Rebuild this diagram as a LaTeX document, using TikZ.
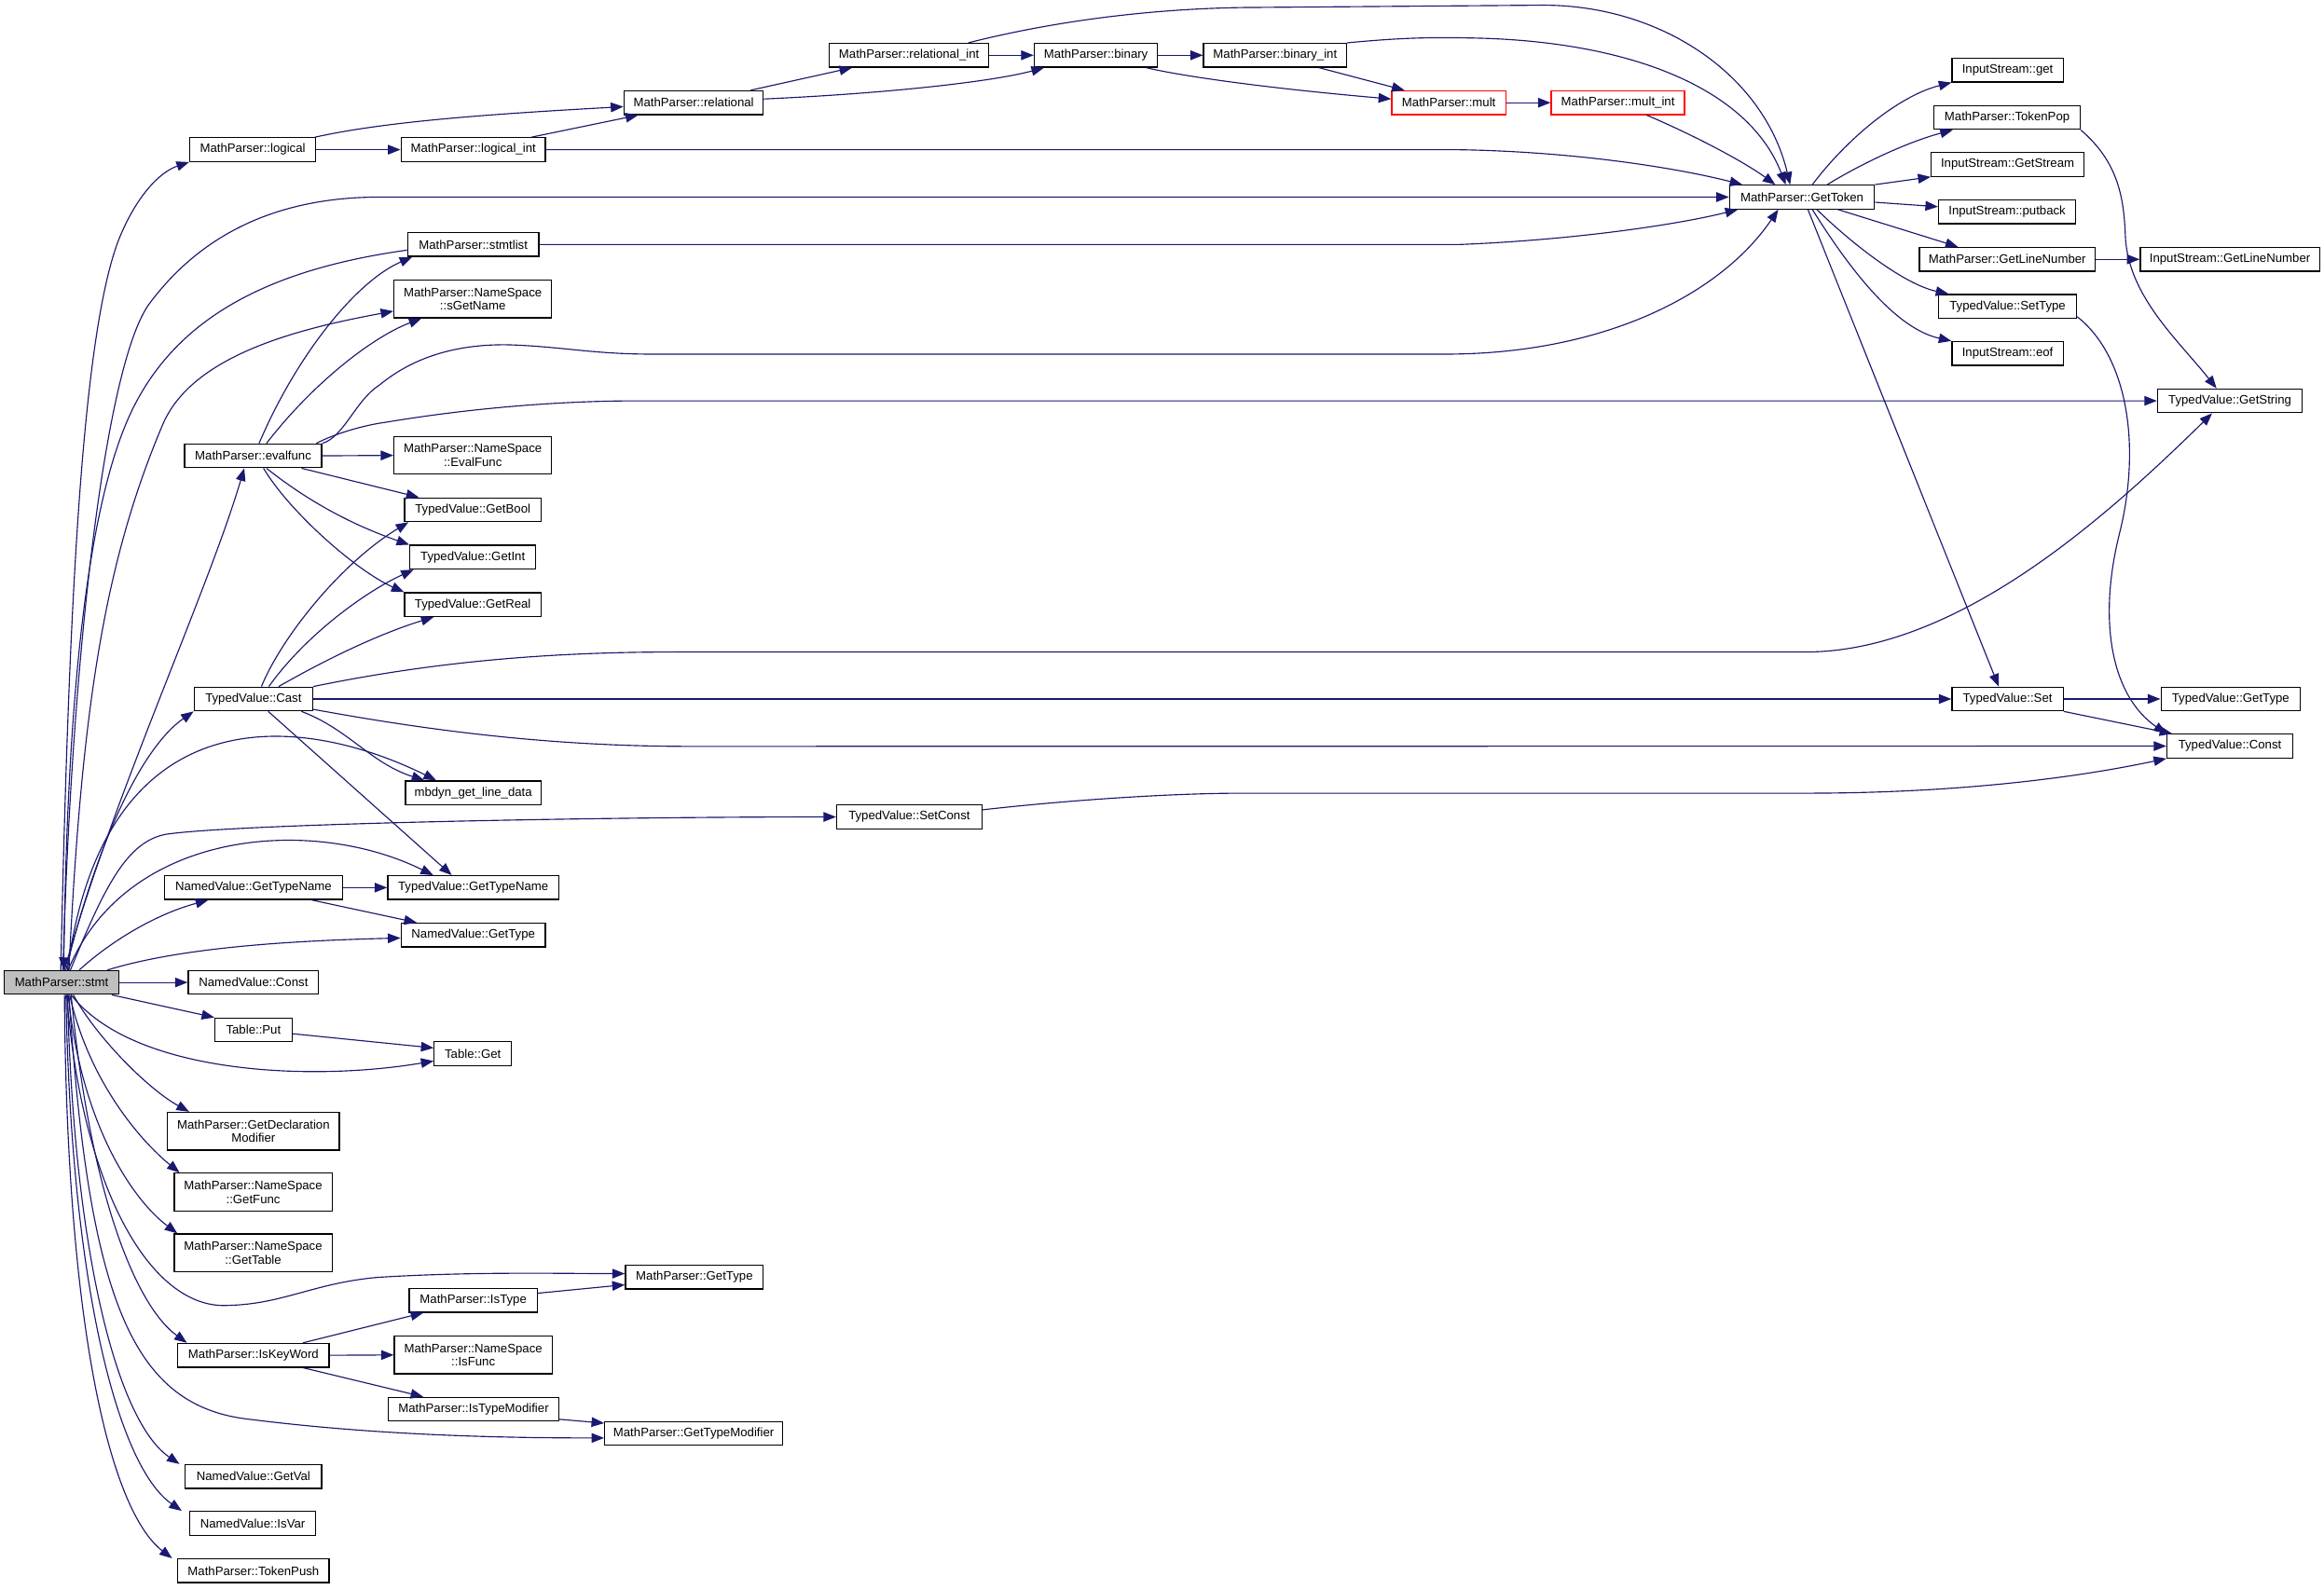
\documentclass[tikz,border=0pt]{standalone}
\usepackage{fontspec}
\setmainfont{Liberation Sans}
\usetikzlibrary{arrows.meta}
\definecolor{edgeblue}{HTML}{191970}
\definecolor{stmtgray}{HTML}{BFBFBF}
\definecolor{redbox}{HTML}{FF0000}
\tikzset{
  box/.style={draw=black, line width=0.8pt, fill=white, inner sep=0pt, align=center,
              font=\fontsize{8.3}{9.3}\selectfont, minimum height=16pt},
  tall/.style={minimum height=25.5pt},
  call/.style={draw=edgeblue, line width=0.72pt, -{Triangle[length=8.5pt,width=6.5pt]}, fill=none},
}
\begin{document}
\begin{tikzpicture}[x=1pt,y=-1pt]
\fill[white] (0,0) rectangle (1568,1072.4);
\useasboundingbox (0,0) rectangle (1568,1072.4);

% ---------- nodes ----------
\node[box, fill=stmtgray, minimum width=77pt] (stmt) at (41.5,663) {MathParser::stmt};
\node[box, minimum width=85pt] (logical) at (170.5,101) {MathParser::logical};
\node[box, minimum width=97.4pt] (logint) at (319.3,101) {MathParser::logical\_int};
\node[box, minimum width=94pt] (relational) at (468,69.3) {MathParser::relational};
\node[box, minimum width=107.4pt] (relint) at (613.3,37.3) {MathParser::relational\_int};
\node[box, minimum width=83.2pt] (binary) at (739.4,37.3) {MathParser::binary};
\node[box, minimum width=96.5pt] (binint) at (860.3,37.3) {MathParser::binary\_int};
\node[box, draw=redbox, minimum width=77pt] (mult) at (977.5,69.3) {MathParser::mult};
\node[box, draw=redbox, minimum width=90pt] (multint) at (1091.6,69.3) {MathParser::mult\_int};
\node[box, minimum width=97.7pt] (gettoken) at (1215.8,133) {MathParser::GetToken};
\node[box, minimum width=75pt] (isget) at (1354.5,47.3) {InputStream::get};
\node[box, minimum width=98.5pt] (tokenpop) at (1354.2,79.3) {MathParser::TokenPop};
\node[box, minimum width=103pt] (getstream) at (1354.5,111) {InputStream::GetStream};
\node[box, minimum width=92.5pt] (putback) at (1354.2,143) {InputStream::putback};
\node[box, minimum width=118.6pt] (mpgetline) at (1354.3,175) {MathParser::GetLineNumber};
\node[box, minimum width=121pt] (isgetline) at (1504.5,175) {InputStream::GetLineNumber};
\node[box, minimum width=93pt] (settype) at (1354.5,206.7) {TypedValue::SetType};
\node[box, minimum width=75pt] (eof) at (1354.5,238.5) {InputStream::eof};
\node[box, minimum width=97.7pt] (getstring) at (1504.5,270.5) {TypedValue::GetString};
\node[box, minimum width=88.5pt] (stmtlist) at (319.3,165) {MathParser::stmtlist};
\node[box, tall, minimum width=106.4pt] (sgetname) at (319,201.7) {MathParser::NameSpace\\::sGetName};
\node[box, minimum width=92.5pt] (evalfunc) at (170.8,307.6) {MathParser::evalfunc};
\node[box, tall, minimum width=106.4pt] (nsevalfunc) at (319,307.3) {MathParser::NameSpace\\::EvalFunc};
\node[box, minimum width=92pt] (getbool) at (319,344) {TypedValue::GetBool};
\node[box, minimum width=85pt] (getint) at (319,376) {TypedValue::GetInt};
\node[box, minimum width=92pt] (getreal) at (319,408) {TypedValue::GetReal};
\node[box, minimum width=80pt] (cast) at (171,471.7) {TypedValue::Cast};
\node[box, minimum width=75pt] (tvset) at (1354.5,471.7) {TypedValue::Set};
\node[box, minimum width=94pt] (tvgettype) at (1505,471.7) {TypedValue::GetType};
\node[box, minimum width=85pt] (tvconst) at (1504.5,503.5) {TypedValue::Const};
\node[box, minimum width=91.4pt] (mbdyn) at (319.3,535) {mbdyn\_get\_line\_data};
\node[box, minimum width=98pt] (setconst) at (613.5,551.3) {TypedValue::SetConst};
\node[box, minimum width=120pt] (nvgettypename) at (171,599) {NamedValue::GetTypeName};
\node[box, minimum width=115.4pt] (tvgettypename) at (319.3,599) {TypedValue::GetTypeName};
\node[box, minimum width=97.4pt] (nvgettype) at (319.3,631) {NamedValue::GetType};
\node[box, minimum width=88pt] (nvconst) at (171,663) {NamedValue::Const};
\node[box, minimum width=52pt] (tableput) at (171,695) {Table::Put};
\node[box, minimum width=52pt] (tableget) at (319,711) {Table::Get};
\node[box, tall, minimum width=116pt] (getdeclmod) at (171,763.4) {MathParser::GetDeclaration\\Modifier};
\node[box, tall, minimum width=106.5pt] (getfunc) at (170.8,804.5) {MathParser::NameSpace\\::GetFunc};
\node[box, tall, minimum width=106.5pt] (gettable) at (170.8,845.5) {MathParser::NameSpace\\::GetTable};
\node[box, minimum width=93pt] (mpgettype) at (468.5,861.8) {MathParser::GetType};
\node[box, minimum width=86.5pt] (istype) at (319.3,877.5) {MathParser::IsType};
\node[box, minimum width=102pt] (iskeyword) at (171,914.6) {MathParser::IsKeyWord};
\node[box, tall, minimum width=106.5pt] (isfunc) at (319.3,914.4) {MathParser::NameSpace\\::IsFunc};
\node[box, minimum width=115pt] (istypemod) at (319.5,951) {MathParser::IsTypeModifier};
\node[box, minimum width=120pt] (gettypemod) at (468,967.4) {MathParser::GetTypeModifier};
\node[box, minimum width=92pt] (getval) at (171,996.4) {NamedValue::GetVal};
\node[box, minimum width=85pt] (isvar) at (170.5,1028) {NamedValue::IsVar};
\node[box, minimum width=102pt] (tokenpush) at (171,1060) {MathParser::TokenPush};

% ---------- edges from stmt (upwards) ----------
\draw[call] ([xshift=-0.5pt]stmt.north) .. controls (46,430) and (54,230) .. (80,162)
  .. controls (92,132) and (108,116) .. (logical.south west);
\draw[call] ([xshift=1pt]stmt.north) .. controls (48,450) and (70,250) .. (100,206)
  .. controls (125,172) and (170,133) .. (256,133) -- (gettoken.west);
\draw[call] ([yshift=-3.8pt]stmtlist.west) .. controls (180,182) and (120,215) .. (90,275)
  .. controls (55,345) and (45,500) .. ([xshift=1.5pt]stmt.north);
\draw[call] ([xshift=5pt]stmt.north) .. controls (55,480) and (70,380) .. (110,286)
  .. controls (130,240) and (200,222) .. ([yshift=-8.3pt]sgetname.west);
\draw[call] ([xshift=2pt]stmt.north) .. controls (75,540) and (140,400) .. ([xshift=-6pt]evalfunc.south);
\draw[call] ([xshift=3pt]stmt.north) .. controls (65,570) and (95,505) .. (cast.south west);
\draw[call] ([xshift=4pt]stmt.north) .. controls (70,470) and (200,480) .. ([xshift=-25pt]mbdyn.north);
\draw[call] ([xshift=6pt]stmt.north) .. controls (70,600) and (85,568) .. (112,563)
  .. controls (160,556) and (400,551.3) .. (setconst.west);
\draw[call] ([xshift=4.5pt]stmt.north) .. controls (85,560) and (210,550) .. ([xshift=-27pt]tvgettypename.north);
\draw[call] ([xshift=12pt]stmt.north) .. controls (75,635) and (105,617) .. ([xshift=-30.5pt]nvgettypename.south);
\draw[call] ([xshift=31pt]stmt.north) .. controls (120,640) and (190,635) .. ([yshift=-2pt]nvgettype.west);
\draw[call] (stmt.east) -- (nvconst.west);

% ---------- edges from stmt (downwards) ----------
\draw[call] ([xshift=-5pt]stmt.south east) -- (tableput.north west);
\draw[call] ([xshift=6.5pt]stmt.south) .. controls (90,725) and (210,730) .. ([yshift=-5pt]tableget.west);
\draw[call] ([xshift=8pt]stmt.south) .. controls (65,700) and (100,735) .. ([xshift=15pt]getdeclmod.north west);
\draw[call] ([xshift=5.5pt]stmt.south) .. controls (60,730) and (95,770) .. ([xshift=4pt]getfunc.north west);
\draw[call] ([xshift=4.5pt]stmt.south) .. controls (55,760) and (90,810) .. ([xshift=2.5pt]gettable.north west);
\draw[call] ([xshift=3.5pt]stmt.south) .. controls (55,800) and (100,880) .. (150,881)
  .. controls (190,881) and (210,866) .. (255,862)
  .. controls (320,858) and (380,859.5) .. ([yshift=2.3pt]mpgettype.west);
\draw[call] ([xshift=6.5pt]stmt.south) .. controls (60,800) and (90,880) .. ([xshift=6.5pt]iskeyword.north west);
\draw[call] ([xshift=5pt]stmt.south) .. controls (60,880) and (90,950) .. (170,958)
  .. controls (250,968) and (330,970.4) .. ([yshift=-3pt]gettypemod.west);
\draw[call] ([xshift=4pt]stmt.south) .. controls (50,850) and (80,960) .. ([xshift=-3.5pt]getval.north west);
\draw[call] ([xshift=3pt]stmt.south) .. controls (48,870) and (80,990) .. ([xshift=-5pt]isvar.north west);
\draw[call] ([xshift=2pt]stmt.south) .. controls (45,900) and (75,1020) .. ([xshift=-3.5pt]tokenpush.north west);

% ---------- evalfunc ----------
\draw[call] ([xshift=4pt]evalfunc.north) .. controls (200,240) and (240,190) .. ([xshift=3.5pt]stmtlist.south west);
\draw[call] ([xshift=9pt]evalfunc.north) .. controls (210,260) and (250,228) .. ([xshift=19pt]sgetname.south west);
\draw[call] (evalfunc.north east) .. controls (232,295) and (240,270) .. (255.8,260)
  .. controls (280,240) and (310,232) .. (344,232.7)
  .. controls (380,234) and (400,239) .. (440,239) -- (975,239)
  .. controls (1080,239) and (1160,200) .. ([xshift=-16pt]gettoken.south);
\draw[call] ([xshift=-4pt]evalfunc.north east) .. controls (225,293) and (245,287) .. (260,285)
  .. controls (320,275) and (380,270.5) .. (430,270.5) -- (getstring.west);
\draw[call] (evalfunc.east) -- (nsevalfunc.west);
\draw[call] ([xshift=-14pt]evalfunc.south east) -- ([xshift=10pt]getbool.north west);
\draw[call] ([xshift=9pt]evalfunc.south) .. controls (210,340) and (240,355) .. (getint.north west);
\draw[call] ([xshift=7pt]evalfunc.south) .. controls (195,345) and (240,385) .. (getreal.north west);

% ---------- Cast ----------
\draw[call] ([xshift=5.4pt]cast.north) .. controls (190,430) and (230,380) .. ([xshift=3pt]getbool.south west);
\draw[call] ([xshift=10.4pt]cast.north) .. controls (205,430) and (245,400) .. ([xshift=3pt]getint.south west);
\draw[call] ([xshift=17pt]cast.north) .. controls (220,445) and (255,428) .. ([xshift=20pt]getreal.south west);
\draw[call] (cast.north east) .. controls (300,445) and (380,440) .. (456,440) -- (1218,440)
  .. controls (1320,440) and (1420,350) .. ([xshift=-12pt]getstring.south);
\draw[call] (cast.east) -- (tvset.west);
\draw[call] ([yshift=-7pt]cast.east) .. controls (300,495) and (380,503.7) .. (466,503.7) -- (tvconst.west);
\draw[call] ([xshift=-8pt]cast.south east) .. controls (235,492) and (250,515) .. ([xshift=-33pt]mbdyn.north);
\draw[call] ([xshift=10pt]cast.south) -- ([xshift=-14.5pt]tvgettypename.north);

% ---------- NamedValue / Table / keyword ----------
\draw[call] (nvgettypename.east) -- (tvgettypename.west);
\draw[call] ([xshift=-21pt]nvgettypename.south east) -- ([xshift=11pt]nvgettype.north west);
\draw[call] ([yshift=-2.6pt]tableput.east) -- ([yshift=3.8pt]tableget.west);
\draw[call] ([xshift=-18pt]iskeyword.north east) -- ([xshift=10pt]istype.south west);
\draw[call] (iskeyword.east) -- (isfunc.west);
\draw[call] ([xshift=-18pt]iskeyword.south east) -- ([xshift=24pt]istypemod.north west);
\draw[call] ([yshift=4.8pt]istype.east) -- ([yshift=-5.2pt]mpgettype.west);
\draw[call] ([yshift=-6.8pt]istypemod.east) -- ([yshift=7pt]gettypemod.west);
\draw[call] ([yshift=4.8pt]setconst.east) .. controls (720,540) and (790,535.3) .. (838,535.3) -- (1218,535.3)
  .. controls (1320,535.3) and (1400,525) .. (tvconst.south west);

% ---------- upper chain ----------
\draw[call] ([xshift=-1pt]logical.north east) .. controls (260,82) and (330,77) .. ([yshift=-2.7pt]relational.west);
\draw[call] (logical.east) -- (logint.west);
\draw[call] ([xshift=-10pt]logint.north east) -- ([xshift=10pt]relational.south west);
\draw[call] (logint.east) -- (981,101) .. controls (1060,102) and (1130,113) .. ([xshift=9pt]gettoken.north west);
\draw[call] ([xshift=-9pt]relational.north east) -- ([xshift=15.7pt]relint.south west);
\draw[call] ([yshift=2.5pt]relational.east) .. controls (600,63) and (670,55) .. ([xshift=7pt]binary.south west);
\draw[call] (relint.east) -- (binary.west);
\draw[call] ([xshift=40pt]relint.north) .. controls (720,12) and (790,5) .. (850,5) -- (1040,3.5)
  .. controls (1120,3) and (1190,50) .. ([xshift=-8pt]gettoken.north);
\draw[call] (binary.east) -- (binint.west);
\draw[call] ([xshift=-8pt]binary.south east) .. controls (800,52) and (860,60) .. ([yshift=2.5pt]mult.west);
\draw[call] ([xshift=-19pt]binint.south east) -- ([xshift=9pt]mult.north west);
\draw[call] (binint.north east) .. controls (940,26) and (960,25) .. (990,25.6)
  .. controls (1100,27) and (1180,60) .. ([xshift=-11pt]gettoken.north);
\draw[call] (mult.east) -- (multint.west);
\draw[call] ([xshift=19.4pt]multint.south) .. controls (1140,90) and (1175,108) .. ([xshift=-18pt]gettoken.north);
\draw[call] (stmtlist.east) -- (985,165) .. controls (1060,162) and (1130,152) .. ([xshift=6pt]gettoken.south west);

% ---------- GetToken callees ----------
\draw[call] ([xshift=7pt]gettoken.north) .. controls (1245,95) and (1280,65) .. (isget.south west);
\draw[call] ([xshift=17pt]gettoken.north) .. controls (1260,108) and (1290,95) .. ([xshift=13pt]tokenpop.south west);
\draw[call] (gettoken.north east) -- (getstream.south west);
\draw[call] ([yshift=-3.5pt]gettoken.east) -- ([yshift=3.5pt]putback.west);
\draw[call] ([xshift=-25pt]gettoken.south east) -- ([xshift=26.5pt]mpgetline.north west);
\draw[call] ([xshift=10pt]gettoken.south) .. controls (1250,165) and (1285,192) .. ([xshift=7pt]settype.north west);
\draw[call] ([xshift=7pt]gettoken.south) .. controls (1250,185) and (1280,222) .. (eof.north west);
\draw[call] ([xshift=4pt]gettoken.south) -- ([xshift=-6pt]tvset.north);
\draw[call] (tokenpop.south east) .. controls (1430,110) and (1433,135) .. (1434,160)
  .. controls (1436,200) and (1470,230) .. ([xshift=-9pt]getstring.north);
\draw[call] (mpgetline.east) -- (isgetline.west);
\draw[call] ([yshift=-7pt]settype.east) .. controls (1435,240) and (1445,300) .. (1430,360)
  .. controls (1415,420) and (1425,470) .. (tvconst.north west);
\draw[call] (tvset.east) -- (tvgettype.west);
\draw[call] (tvset.south east) -- ([xshift=4pt]tvconst.north west);
\end{tikzpicture}
\end{document}
